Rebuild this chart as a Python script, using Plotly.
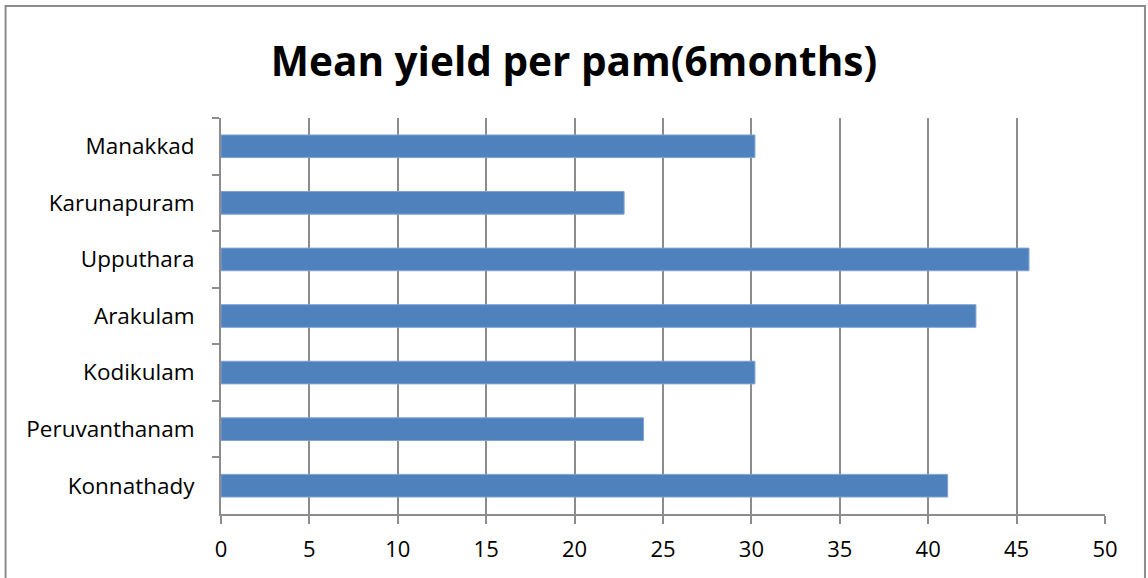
import plotly.graph_objects as go

# Mean yield per pam over six months, by location (top to bottom)
locations = ["Manakkad", "Karunapuram", "Upputhara", "Arakulam",
             "Kodikulam", "Peruvanthanam", "Konnathady"]
mean_yield = [30.2, 22.8, 45.7, 42.7, 30.2, 23.9, 41.1]
x_ticks = [0, 5, 10, 15, 20, 25, 30, 35, 40, 45, 50]

FONT = "'Open Sans', sans-serif"
GRID = "#8c8c8c"

fig = go.Figure(
    go.Bar(
        x=mean_yield,
        y=locations,
        orientation="h",
        width=0.4,
        marker=dict(color="#4F81BD", line=dict(color="#7FA3D3", width=1)),
        hoverinfo="x+y",
    )
)

fig.update_layout(
    width=1148,
    height=578,
    margin=dict(l=221, r=43, t=118, b=64),
    paper_bgcolor="white",
    plot_bgcolor="white",
    showlegend=False,
    title=dict(
        text="<b>Mean yield per pam(6months)</b>",
        x=0.5,
        xanchor="center",
        y=0.893,
        yanchor="middle",
        font=dict(family=FONT, size=40.5, color="black"),
    ),
    xaxis=dict(
        range=[0, 50],
        tickvals=x_ticks,
        ticks="outside",
        ticklen=8,
        tickwidth=2,
        tickcolor=GRID,
        showline=True,
        linecolor=GRID,
        linewidth=2,
        showgrid=True,
        gridcolor=GRID,
        gridwidth=2,
        zeroline=False,
        tickfont=dict(family=FONT, size=22, color="black"),
        ticklabelstandoff=7,
    ),
    yaxis=dict(
        autorange="reversed",
        ticks="outside",
        tickson="boundaries",
        ticklen=7,
        tickwidth=2,
        tickcolor=GRID,
        showline=True,
        linecolor=GRID,
        linewidth=2,
        showgrid=False,
        tickfont=dict(family=FONT, size=22.5, color="black"),
        ticklabelstandoff=20,
    ),
    shapes=[
        dict(
            type="rect",
            xref="paper",
            yref="paper",
            x0=-0.2437,
            x1=1.0452,
            y0=-0.25,
            y1=1.2828,
            line=dict(color="#8c8c8c", width=2),
            fillcolor="rgba(0,0,0,0)",
            layer="below",
        )
    ],
)

fig.write_html("out.html")
